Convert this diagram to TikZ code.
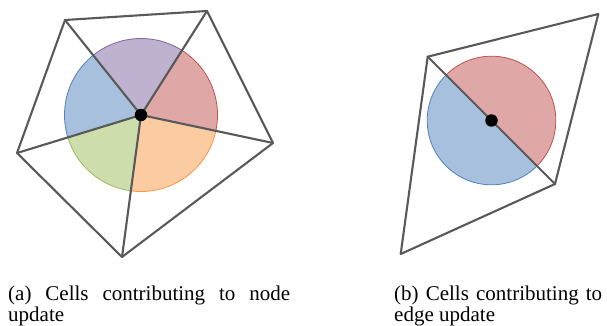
\documentclass[tikz,border=0pt]{standalone}
\usepackage{fontspec}
\setmainfont{Liberation Serif}
\definecolor{oblue}{HTML}{4F81BD}
\definecolor{ored}{HTML}{C0504D}
\definecolor{ogreen}{HTML}{9BBB59}
\definecolor{opurple}{HTML}{8064A2}
\definecolor{oorange}{HTML}{F79646}
\definecolor{edgegray}{HTML}{595959}
\begin{document}
\begin{tikzpicture}[x=1pt,y=-1pt,
  edgeline/.style={draw=edgegray,line width=2.1pt,line join=round,line cap=round},
  sectorfill/.style={fill=#1!50,draw=#1,line width=0.8pt},
  nodedot/.style={circle,fill=black,inner sep=0pt,minimum size=12.5pt},
  capt/.style={anchor=north west,inner sep=0pt,align=justify,font=\fontsize{21}{21}\selectfont}]
\useasboundingbox (0,0) rectangle (607,326);
% ---------- left figure ----------
\coordinate (c) at (141,115);
\coordinate (tl) at (65,20);
\coordinate (tr) at (207,11);
\coordinate (r) at (273,143);
\coordinate (b) at (122,257);
\coordinate (l) at (17,153);
\def\Rl{76.5}
\foreach \p/\q/\col in {tl/tr/opurple, tr/r/ored, r/b/oorange, b/l/ogreen, l/tl/oblue}{
  \begin{scope}
    \clip (c) -- (\p) -- (\q) -- cycle;
    \path[sectorfill=\col] (c) circle[radius=\Rl];
  \end{scope}
}
\draw[edgeline] (tl) -- (tr) -- (r) -- (b) -- (l) -- cycle;
\foreach \p in {tl,tr,r,b,l} \draw[edgeline] (c) -- (\p);
\node[nodedot] (cn) at (c) {};
% ---------- right figure ----------
\coordinate (A) at (427.7,56.7);
\coordinate (B) at (598.3,14);
\coordinate (C) at (555,184);
\coordinate (D) at (400.7,254);
\coordinate (e) at (491.5,120.5);
\def\Rr{64.3}
\begin{scope}
  \clip (A) -- (B) -- (C) -- cycle;
  \path[sectorfill=ored] (e) circle[radius=\Rr];
\end{scope}
\begin{scope}
  \clip (A) -- (C) -- (D) -- cycle;
  \path[sectorfill=oblue] (e) circle[radius=\Rr];
\end{scope}
\draw[edgeline] (A) -- (B) -- (C) -- (D) -- cycle;
\draw[edgeline] (A) -- (C);
\node[nodedot] (en) at (e) {};
% ---------- captions ----------
\node[capt,text width=282pt] (capa) at (8,286) {(a) Cells contributing to node\linebreak update};
\node[capt,text width=208pt] (capb) at (394,286) {(b) Cells contributing to\linebreak edge update};
\end{tikzpicture}
\end{document}
